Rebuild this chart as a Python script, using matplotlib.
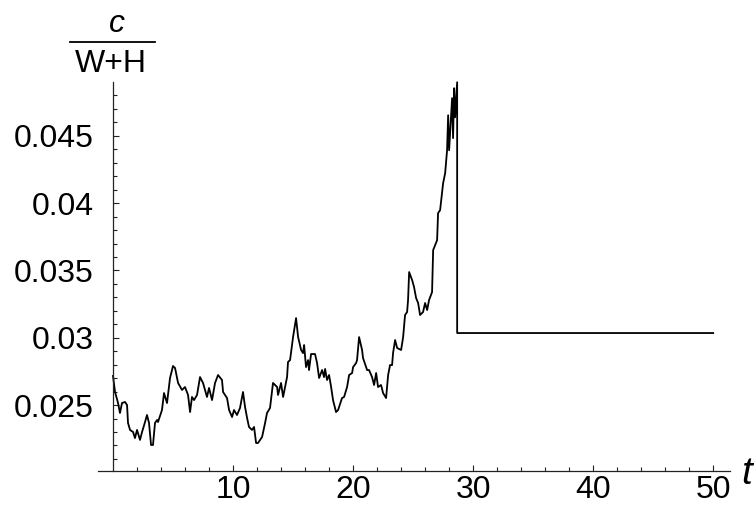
import matplotlib
matplotlib.use("Agg")
import matplotlib.pyplot as plt
from matplotlib.lines import Line2D

plt.rcParams['font.family'] = ['Liberation Sans', 'DejaVu Sans']

# path of c/(W+H) over time, up to the stopping time
t = [0.00, 0.17, 0.42, 0.58, 0.75, 1.00, 1.17, 1.25, 1.42, 1.67, 1.83, 2.00,
     2.25, 2.42, 2.67, 2.83, 3.00, 3.17, 3.33, 3.50, 3.67, 3.75, 4.08, 4.25,
     4.50, 4.75, 5.00, 5.17, 5.42, 5.75, 6.00, 6.25, 6.42, 6.58, 6.75, 7.00,
     7.25, 7.50, 7.83, 8.00, 8.25, 8.50, 8.75, 9.08, 9.17, 9.50, 9.67, 9.92,
     10.08, 10.33, 10.58, 10.83, 11.00, 11.17, 11.33, 11.58, 11.75, 11.92,
     12.08, 12.42, 12.67, 12.83, 13.08, 13.33, 13.67, 13.75, 14.00, 14.17,
     14.50, 14.58, 14.75, 15.00, 15.25, 15.42, 15.67, 15.83, 15.92, 16.08,
     16.25, 16.33, 16.50, 16.83, 17.00, 17.17, 17.42, 17.58, 17.67, 17.83,
     18.00, 18.17, 18.33, 18.58, 18.75, 19.08, 19.25, 19.50, 19.67, 19.92,
     20.00, 20.25, 20.33, 20.50, 20.75, 20.83, 21.17, 21.33, 21.58, 21.75,
     21.92, 22.08, 22.33, 22.50, 22.75, 22.92, 23.08, 23.25, 23.33, 23.50,
     23.67, 24.00, 24.17, 24.33, 24.50, 24.58, 24.67, 24.92, 25.08, 25.25,
     25.42, 25.58, 25.83, 26.00, 26.17, 26.33, 26.58, 26.67, 27.00, 27.08,
     27.25, 27.50, 27.67, 27.83, 27.92, 28.00, 28.25, 28.33, 28.42, 28.50,
     28.67]
c = [0.02716, 0.02597, 0.02515, 0.02441, 0.02515, 0.02523, 0.02500, 0.02367,
     0.02315, 0.02300, 0.02255, 0.02315, 0.02241, 0.02300, 0.02374, 0.02426,
     0.02367, 0.02203, 0.02203, 0.02367, 0.02389, 0.02374, 0.02463, 0.02589,
     0.02515, 0.02701, 0.02790, 0.02775, 0.02664, 0.02612, 0.02634, 0.02575,
     0.02448, 0.02560, 0.02537, 0.02575, 0.02708, 0.02664, 0.02560, 0.02627,
     0.02537, 0.02664, 0.02723, 0.02686, 0.02597, 0.02552, 0.02463, 0.02411,
     0.02463, 0.02426, 0.02478, 0.02597, 0.02486, 0.02404, 0.02337, 0.02315,
     0.02337, 0.02218, 0.02218, 0.02263, 0.02367, 0.02441, 0.02478, 0.02664,
     0.02634, 0.02575, 0.02664, 0.02560, 0.02708, 0.02820, 0.02834, 0.03005,
     0.03146, 0.03005, 0.02909, 0.02886, 0.02946, 0.02782, 0.02834, 0.02760,
     0.02879, 0.02879, 0.02812, 0.02701, 0.02760, 0.02708, 0.02768, 0.02686,
     0.02723, 0.02634, 0.02537, 0.02448, 0.02463, 0.02552, 0.02560, 0.02634,
     0.02723, 0.02738, 0.02782, 0.02812, 0.02834, 0.03005, 0.02909, 0.02849,
     0.02760, 0.02760, 0.02708, 0.02649, 0.02738, 0.02634, 0.02649, 0.02589,
     0.02552, 0.02723, 0.02797, 0.02797, 0.02886, 0.02983, 0.02924, 0.02909,
     0.03005, 0.03169, 0.03191, 0.03280, 0.03488, 0.03428, 0.03376, 0.03295,
     0.03258, 0.03169, 0.03191, 0.03258, 0.03206, 0.03280, 0.03339, 0.03651,
     0.03725, 0.03926, 0.03948, 0.04148, 0.04223, 0.04393, 0.04653, 0.04393,
     0.04780, 0.04483, 0.04854, 0.04638, 0.04898]

# value held constant after the stop
t_stop = 28.67
c_after = 0.03035
t_end = 50

t_all = t + [t_stop, t_end]
c_all = c + [c_after, c_after]

fig = plt.figure(figsize=(7.54, 5.08), dpi=100)
ax = fig.add_axes([98 / 754, 37 / 508, 632 / 754, 389 / 508])

ax.plot(t_all, c_all, color='black', lw=1.3, clip_on=False)

ax.set_xlim(-1.25, 51.4)
ax.set_ylim(0.0201, 0.0490)

for s in ['top', 'right']:
    ax.spines[s].set_visible(False)
ax.spines['left'].set_position(('data', 0))
for s in ['left', 'bottom']:
    ax.spines[s].set_linewidth(0.9)
    ax.spines[s].set_color('#222222')

ax.set_xticks([10, 20, 30, 40, 50])
ax.set_xticks([v for v in range(2, 51, 2) if v % 10], minor=True)
ax.set_yticks([0.025, 0.03, 0.035, 0.04, 0.045])
ax.set_yticklabels(['0.025', '0.03', '0.035', '0.04', '0.045'])
ax.set_yticks([v / 1000 for v in range(21, 49) if v % 5], minor=True)

ax.tick_params(which='both', direction='in', color='#222222', width=0.8)
ax.tick_params(which='major', length=4.5)
ax.tick_params(which='minor', length=2.8)
ax.tick_params(axis='x', which='major', labelsize=23, pad=3)
ax.tick_params(axis='y', which='major', labelsize=23, pad=14)

# axis labels
fig.text(752 / 754, (508 - 474) / 508, 't', fontsize=28, style='italic',
         ha='right', va='center')
fig.text(117 / 754, (508 - 24) / 508, 'c', fontsize=23, style='italic',
         ha='center', va='center')
fig.text(111 / 754, (508 - 64) / 508, 'W+H', fontsize=23,
         ha='center', va='center')
fig.add_artist(Line2D([70 / 754, 155 / 754], [(508 - 42) / 508] * 2,
                      transform=fig.transFigure, color='black', lw=1.3))

fig.savefig('out.png', dpi=100)
